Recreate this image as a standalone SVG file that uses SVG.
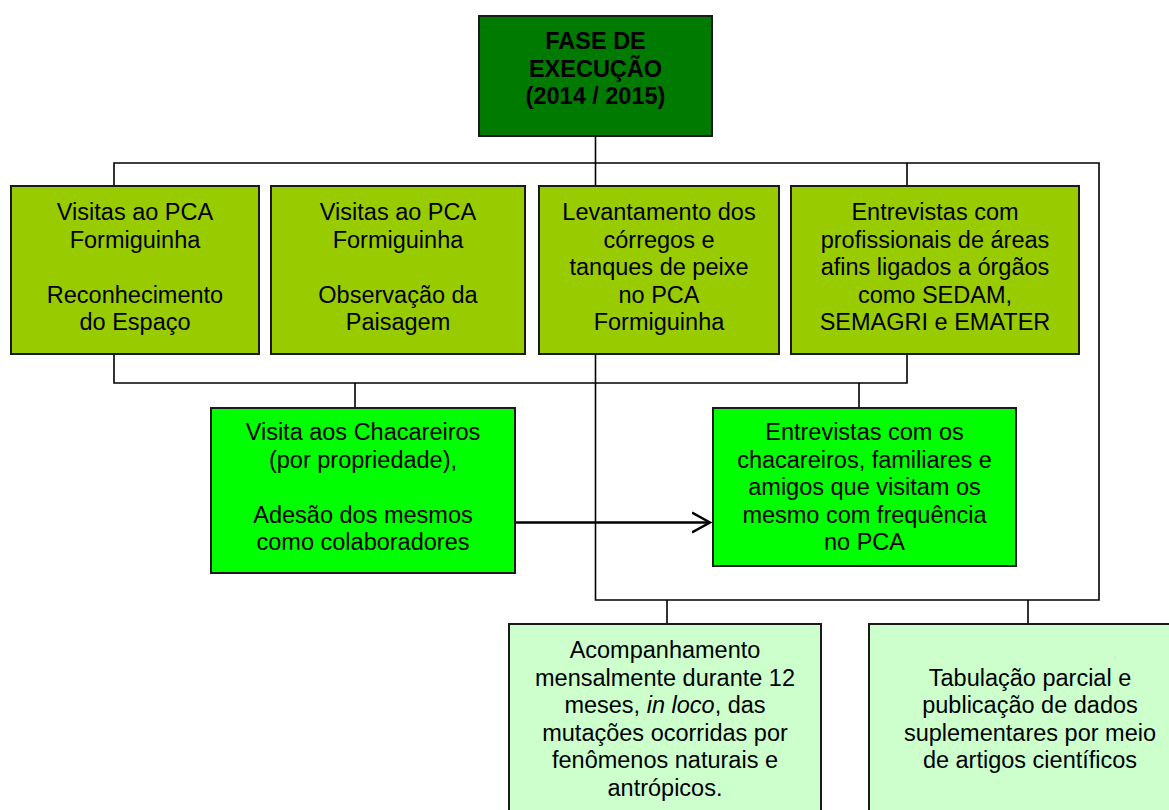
<svg xmlns="http://www.w3.org/2000/svg" width="1169" height="810" viewBox="0 0 1169 810">
<style>
text{font-family:"Liberation Sans",Arial,sans-serif;font-size:23.5px;fill:#000;text-anchor:middle}
.b{font-weight:bold}
.box{stroke:#1a1a1a;stroke-width:2}
.c{fill:none;stroke:#000;stroke-width:1.6}
.top{fill:#007A00}
.l1{fill:#99CC00}
.l2{fill:#00FF00}
.l3{fill:#CCFFCC}
</style>
<defs>
<marker id="arr" markerWidth="20" markerHeight="24" refX="18" refY="12" orient="auto" markerUnits="userSpaceOnUse">
<path d="M0,2 L18,12 L0,22" fill="none" stroke="#000" stroke-width="2.5"/>
</marker>
</defs>
<rect width="1169" height="810" fill="#fff"/>
<g id="connectors">
<path class="c" d="M595.5,136 V163 M114,186 V163 H1099 V600 H595.5 V354 M595.5,163 V186 M907,163 V186"/>
<path class="c" d="M114,354 V383 H907 V354 M355,383 V408 M859,383 V408"/>
<path class="c" d="M667,600 V624 M1028,600 V624"/>
<path d="M515,522.5 H710" fill="none" stroke="#000" stroke-width="2.5" marker-end="url(#arr)"/>
</g>
<g id="n-fase">
<rect class="box top" x="479" y="16" width="233" height="120"/>
<text class="b" x="595.5" y="49">FASE DE</text>
<text class="b" x="595.5" y="77">EXECUÇÃO</text>
<text class="b" x="595.5" y="104">(2014 / 2015)</text>
</g>
<g id="n-visitas1">
<rect class="box l1" x="11" y="186" width="248" height="168"/>
<text x="135" y="220">Visitas ao PCA</text>
<text x="135" y="247.5">Formiguinha</text>
<text x="135" y="302.5">Reconhecimento</text>
<text x="135" y="330">do Espaço</text>
</g>
<g id="n-visitas2">
<rect class="box l1" x="271" y="186" width="254" height="168"/>
<text x="398" y="220">Visitas ao PCA</text>
<text x="398" y="247.5">Formiguinha</text>
<text x="398" y="302.5">Observação da</text>
<text x="398" y="330">Paisagem</text>
</g>
<g id="n-levantamento">
<rect class="box l1" x="539" y="186" width="240" height="168"/>
<text x="659" y="220">Levantamento dos</text>
<text x="659" y="247.5">córregos e</text>
<text x="659" y="275">tanques de peixe</text>
<text x="659" y="302.5">no PCA</text>
<text x="659" y="330">Formiguinha</text>
</g>
<g id="n-entrevistas-prof">
<rect class="box l1" x="791" y="186" width="288" height="168"/>
<text x="935" y="220">Entrevistas com</text>
<text x="935" y="247.5">profissionais de áreas</text>
<text x="935" y="275">afins ligados a órgãos</text>
<text x="935" y="302.5">como SEDAM,</text>
<text x="935" y="330">SEMAGRI e EMATER</text>
</g>
<g id="n-visita-chacareiros">
<rect class="box l2" x="211" y="408" width="304" height="165"/>
<text x="363" y="440">Visita aos Chacareiros</text>
<text x="363" y="467.5">(por propriedade),</text>
<text x="363" y="522.5">Adesão dos mesmos</text>
<text x="363" y="550">como colaboradores</text>
</g>
<g id="n-entrevistas-chacareiros">
<rect class="box l2" x="713" y="408" width="303" height="158"/>
<text x="864.5" y="440">Entrevistas com os</text>
<text x="864.5" y="467.5">chacareiros, familiares e</text>
<text x="864.5" y="495">amigos que visitam os</text>
<text x="864.5" y="522.5">mesmo com frequência</text>
<text x="864.5" y="550">no PCA</text>
</g>
<g id="n-acompanhamento">
<rect class="box l3" x="509" y="624" width="312" height="200"/>
<text x="665" y="658">Acompanhamento</text>
<text x="665" y="685.5">mensalmente durante 12</text>
<text x="665" y="713">meses, <tspan font-style="italic">in loco</tspan>, das</text>
<text x="665" y="740.5">mutações ocorridas por</text>
<text x="665" y="768">fenômenos naturais e</text>
<text x="665" y="795.5">antrópicos.</text>
</g>
<g id="n-tabulacao">
<rect class="box l3" x="869" y="624" width="322" height="200"/>
<text x="1030" y="685.5">Tabulação parcial e</text>
<text x="1030" y="713">publicação de dados</text>
<text x="1030" y="740.5">suplementares por meio</text>
<text x="1030" y="768">de artigos científicos</text>
</g>
</svg>
